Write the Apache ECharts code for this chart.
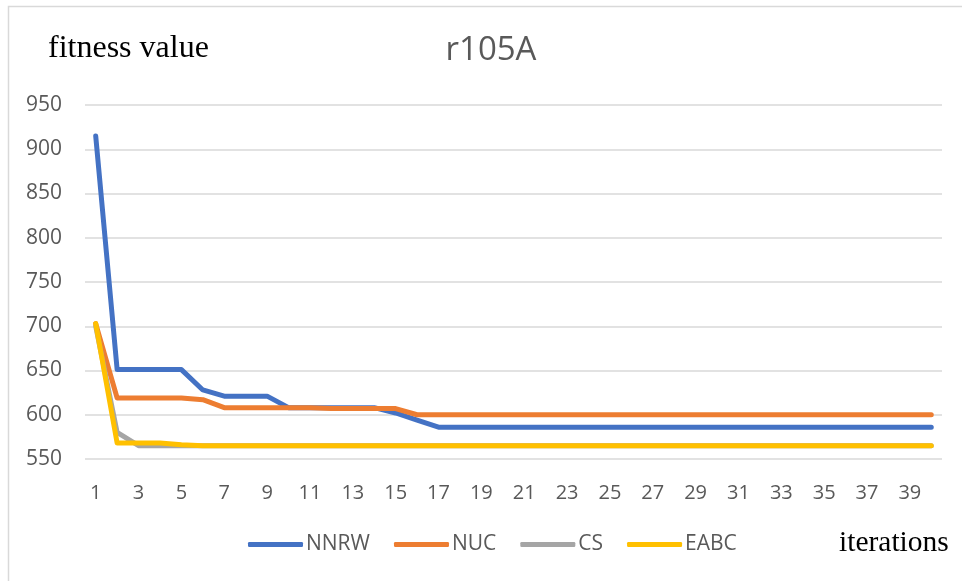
<!DOCTYPE html>
<html>
<head>
<meta charset="utf-8">
<title>r105A</title>
<script src="https://cdn.jsdelivr.net/npm/echarts@6/dist/echarts.min.js"></script>
<style>
  html, body { margin: 0; padding: 0; background: #ffffff; }
  #chart { width: 962px; height: 581px; }
</style>
</head>
<body>
<div id="chart"></div>
<script>
// Iterations 1..40
const iterations = Array.from({ length: 40 }, (_, i) => String(i + 1));

// Best fitness value per iteration for each algorithm
const nnrw = [915, 651, 651, 651, 651, 628, 621, 621, 621, 608,
              608, 608, 608, 608, 602, 594, 586, 586, 586, 586,
              586, 586, 586, 586, 586, 586, 586, 586, 586, 586,
              586, 586, 586, 586, 586, 586, 586, 586, 586, 586];
const nuc  = [703, 619, 619, 619, 619, 617, 608, 608, 608, 608,
              608, 607, 607, 607, 607, 600, 600, 600, 600, 600,
              600, 600, 600, 600, 600, 600, 600, 600, 600, 600,
              600, 600, 600, 600, 600, 600, 600, 600, 600, 600];
const cs   = [700, 580, 565, 565, 565, 565, 565, 565, 565, 565,
              565, 565, 565, 565, 565, 565, 565, 565, 565, 565,
              565, 565, 565, 565, 565, 565, 565, 565, 565, 565,
              565, 565, 565, 565, 565, 565, 565, 565, 565, 565];
const eabc = [703, 568, 568, 568, 566, 565, 565, 565, 565, 565,
              565, 565, 565, 565, 565, 565, 565, 565, 565, 565,
              565, 565, 565, 565, 565, 565, 565, 565, 565, 565,
              565, 565, 565, 565, 565, 565, 565, 565, 565, 565];

const seriesNames = ['NNRW', 'NUC', 'CS', 'EABC'];
const seriesColors = ['#4472C4', '#ED7D31', '#A5A5A5', '#FFC000'];
const seriesData = [nnrw, nuc, cs, eabc];

const chart = echarts.init(document.getElementById('chart'), null, { renderer: 'canvas' });

const textColor = '#595959';
const sansFont = '"Open Sans", "Noto Sans", sans-serif';
const serifFont = '"Liberation Serif", "DejaVu Serif", serif';

chart.setOption({
  animation: false,
  backgroundColor: '#ffffff',
  title: {
    text: 'r105A',
    left: 486,
    top: 29,
    textAlign: 'center',
    textStyle: { fontFamily: sansFont, fontSize: 33, fontWeight: 'normal', color: textColor }
  },
  graphic: [
    {
      type: 'rect',
      shape: { x: 8.5, y: 6.5, width: 1000, height: 1000 },
      style: { fill: 'none', stroke: '#D9D9D9', lineWidth: 1.5 },
      silent: true
    },
    {
      type: 'text',
      left: 48,
      top: 33,
      style: { text: 'fitness value', font: '32px ' + serifFont, fill: '#000000' }
    },
    {
      type: 'text',
      left: 839,
      top: 528,
      style: { text: 'iterations', font: '29.5px ' + serifFont, fill: '#000000' }
    }
  ],
  legend: {
    data: seriesNames,
    left: 248,
    top: 534,
    padding: 0,
    itemWidth: 55,
    itemHeight: 5,
    itemGap: 24,
    icon: 'roundRect',
    textStyle: { fontFamily: sansFont, fontSize: 21, color: textColor, padding: [0, 0, 0, -2] }
  },
  grid: { left: 85, right: 20, top: 105, bottom: 122, containLabel: false },
  xAxis: {
    type: 'category',
    data: iterations,
    boundaryGap: true,
    axisLine: { show: false },
    axisTick: { show: false },
    axisLabel: { interval: 1, color: textColor, fontFamily: sansFont, fontSize: 20, margin: 24 }
  },
  yAxis: {
    type: 'value',
    min: 550,
    max: 950,
    interval: 50,
    axisLine: { show: false },
    axisTick: { show: false },
    axisLabel: { color: textColor, fontFamily: sansFont, fontSize: 21, margin: 23 },
    splitLine: { lineStyle: { color: '#D9D9D9', width: 1.5 } }
  },
  series: seriesNames.map((name, i) => ({
    name,
    type: 'line',
    data: seriesData[i],
    symbol: 'none',
    color: seriesColors[i],
    lineStyle: { width: 5, color: seriesColors[i], cap: 'round', join: 'round' },
    z: 2 + i
  }))
});
</script>
</body>
</html>
